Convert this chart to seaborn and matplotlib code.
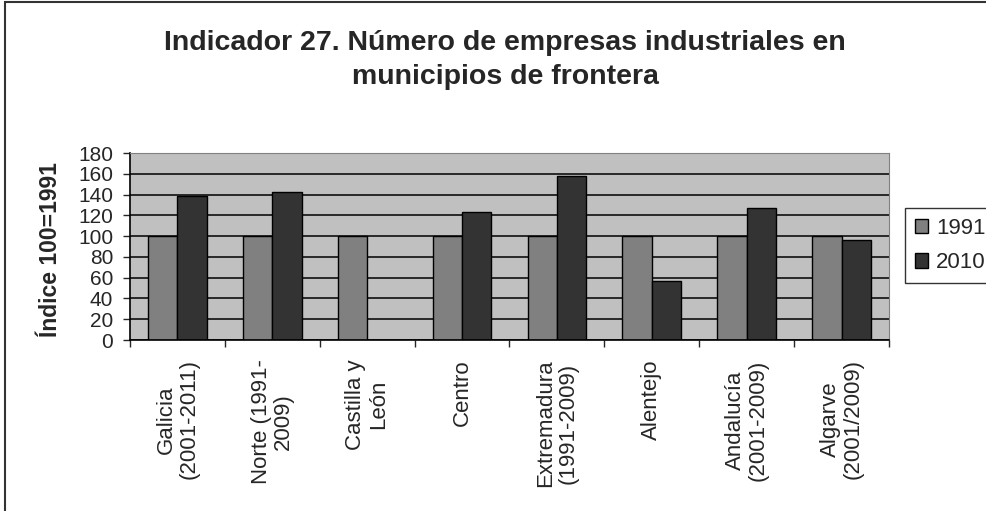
"""Indicador 27 - empresas industriales en municipios de frontera."""
import matplotlib
matplotlib.use("Agg")
import matplotlib.pyplot as plt
import numpy as np
import pandas as pd
import seaborn as sns
from matplotlib.patches import Rectangle

regions = ["Galicia\n(2001-2011)", "Norte (1991-\n2009)", "Castilla y\nLeón", "Centro",
           "Extremadura\n(1991-2009)", "Alentejo", "Andalucía\n(2001-2009)", "Algarve\n(2001/2009)"]
series = ["1991", "2010"]
values_1991 = [100, 100, 100, 100, 100, 100, 100, 100]
values_2010 = [139, 142, np.nan, 123, 158, 57, 127, 96]
y_ticks = list(range(0, 181, 20))

df = pd.DataFrame({
    "region": regions * 2,
    "serie": [series[0]] * len(regions) + [series[1]] * len(regions),
    "valor": values_1991 + values_2010,
})

sns.set_style("white")
plt.rcParams["font.family"] = ["Liberation Sans", "DejaVu Sans"]

fig = plt.figure(figsize=(9.87, 5.11), dpi=100)
ax = fig.add_axes([130 / 987, 171 / 511, 759 / 987, 187 / 511])
ax.set_facecolor("#c0c0c0")

sns.barplot(data=df, x="region", y="valor", hue="serie", order=regions, hue_order=series,
            palette=["#808080", "#333333"], width=0.62, edgecolor="black", linewidth=1,
            saturation=1, ax=ax)

ax.set_xlim(-0.5, len(regions) - 0.5)
ax.set_ylim(0, 180)
ax.set_yticks(y_ticks)
ax.yaxis.grid(True, color="black", linewidth=1.1)
ax.set_axisbelow(True)
ax.tick_params(axis="y", labelsize=15, length=5, width=1, direction="out", left=True, pad=7)
ax.set_xticks(range(len(regions)))
ax.set_xticklabels(regions, rotation=90, fontsize=16, va="top", ha="center",
                   multialignment="center", linespacing=1.1)
ax.tick_params(axis="x", length=0, pad=14)
ax.set_xticks(np.arange(-0.5, len(regions), 1), minor=True)
ax.tick_params(axis="x", which="minor", length=5, width=1, direction="out", bottom=True)
ax.set_xlabel("")
ax.set_ylabel("Índice 100=1991", fontsize=16.5, fontweight="bold")
ax.yaxis.set_label_coords(62 / 987, 1 - 250 / 511, transform=fig.transFigure)
for side in ["left", "bottom"]:
    ax.spines[side].set_color("black")
    ax.spines[side].set_linewidth(1.2)
for side in ["top", "right"]:
    ax.spines[side].set_color("#808080")

leg = ax.legend(loc="upper left", bbox_to_anchor=(905 / 987, 1 - 208 / 511), bbox_transform=fig.transFigure,
                frameon=True, fancybox=False, edgecolor="black", fontsize=16,
                handlelength=0.6, handleheight=0.6, handletextpad=0.35, borderpad=0.45,
                labelspacing=0.6, borderaxespad=0)
leg.get_frame().set_linewidth(1)

fig.text(505 / 987, 1 - 60 / 511, "Indicador 27. Número de empresas industriales en\nmunicipios de frontera",
         ha="center", va="center", fontsize=20.5, fontweight="bold", linespacing=1.45)

fig.patches.append(Rectangle((5 / 987, -0.1), 1.2, 1.1 - 2 / 511, transform=fig.transFigure,
                             fill=False, edgecolor="#333333", linewidth=1.5))

fig.savefig("out.png", dpi=100)
plt.close(fig)
